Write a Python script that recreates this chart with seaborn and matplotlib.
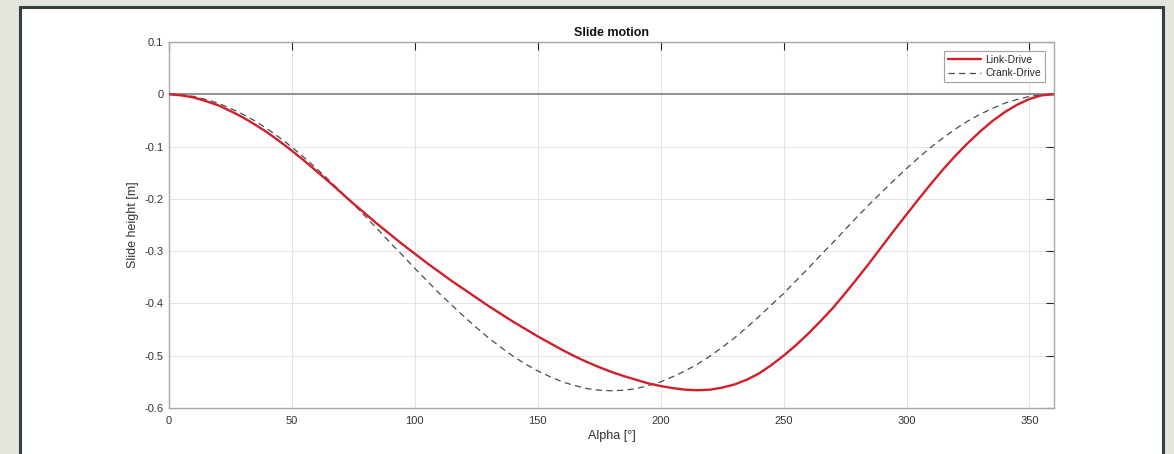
import numpy as np
import pandas as pd
import matplotlib
matplotlib.use('Agg')
import matplotlib.pyplot as plt
from matplotlib.patches import Rectangle
import seaborn as sns

# crank angle [deg], every 5 degrees
alpha = list(range(0, 361, 5))

# slide height [m]
link_drive = [0.000, -0.002, -0.006, -0.013, -0.021, -0.032, -0.044, -0.058, -0.073, -0.090,
              -0.108, -0.127, -0.147, -0.167, -0.188, -0.209, -0.229, -0.249, -0.268, -0.287,
              -0.305, -0.323, -0.340, -0.357, -0.373, -0.389, -0.405, -0.420, -0.435, -0.449,
              -0.463, -0.476, -0.489, -0.501, -0.512, -0.522, -0.531, -0.539, -0.546, -0.553,
              -0.558, -0.562, -0.565, -0.566, -0.565, -0.561, -0.555, -0.546, -0.534, -0.518,
              -0.500, -0.480, -0.458, -0.434, -0.409, -0.381, -0.352, -0.322, -0.291, -0.260,
              -0.230, -0.200, -0.171, -0.143, -0.117, -0.093, -0.071, -0.051, -0.034, -0.020,
              -0.009, -0.002, 0.000]
crank_drive = [0.000, -0.001, -0.004, -0.010, -0.017, -0.027, -0.038, -0.051, -0.066, -0.083,
               -0.101, -0.121, -0.142, -0.164, -0.187, -0.210, -0.234, -0.259, -0.284, -0.308,
               -0.333, -0.357, -0.381, -0.403, -0.425, -0.446, -0.466, -0.484, -0.501, -0.516,
               -0.529, -0.540, -0.550, -0.557, -0.563, -0.566, -0.567, -0.566, -0.563, -0.557,
               -0.550, -0.540, -0.529, -0.516, -0.501, -0.484, -0.466, -0.446, -0.425, -0.403,
               -0.381, -0.357, -0.333, -0.308, -0.284, -0.259, -0.234, -0.210, -0.187, -0.164,
               -0.142, -0.121, -0.101, -0.083, -0.066, -0.051, -0.038, -0.027, -0.017, -0.010,
               -0.004, -0.001, 0.000]

x_ticks = [0, 50, 100, 150, 200, 250, 300, 350]
y_ticks = [0.1, 0, -0.1, -0.2, -0.3, -0.4, -0.5, -0.6]
y_tick_labels = ['0.1', '0', '-0.1', '-0.2', '-0.3', '-0.4', '-0.5', '-0.6']

df = pd.DataFrame({'alpha': alpha, 'Link-Drive': link_drive, 'Crank-Drive': crank_drive})

sns.set_theme(style='whitegrid')
plt.rcParams['font.family'] = ['Liberation Sans', 'DejaVu Sans']

fig = plt.figure(figsize=(11.74, 4.54), dpi=100, facecolor='#e3e4db')

# white panel with dark frame
fig.patches.append(Rectangle((20 / 1174, -0.05), (1163 - 20) / 1174, 1 - 7 / 454 + 0.05,
                             transform=fig.transFigure, facecolor='white',
                             edgecolor='#34433e', linewidth=2.2, zorder=-1))

ax = fig.add_axes([169 / 1174, 1 - 408 / 454, (1054 - 169) / 1174, (408 - 42) / 454])
ax.set_facecolor('white')

ax.axhline(0, color='#8a8a8a', lw=1.3, zorder=1)
sns.lineplot(data=df, x='alpha', y='Link-Drive', ax=ax, color='#d0202a', lw=1.7,
             label='Link-Drive', zorder=3)
sns.lineplot(data=df, x='alpha', y='Crank-Drive', ax=ax, color='#4a4a4a', lw=0.9,
             linestyle=(0, (5, 3.5)), label='Crank-Drive', zorder=2)

ax.set_xlim(0, 360)
ax.set_ylim(-0.6, 0.1)
ax.set_xticks(x_ticks)
ax.set_yticks(y_ticks)
ax.set_yticklabels(y_tick_labels)

ax.grid(True, color='#e3e3e3', lw=0.7)
for s in ax.spines.values():
    s.set_color('#a6a6a6')
    s.set_linewidth(1.0)
ax.tick_params(direction='in', length=5.5, width=0.8, color='#262626',
               top=True, right=True, labelsize=8, labelcolor='#333333')
ax.tick_params(axis='x', pad=6)
ax.tick_params(axis='y', pad=4)

ax.set_title('Slide motion', fontsize=9, fontweight='bold', pad=4, color='#111111')
ax.set_xlabel('Alpha [°]', fontsize=9, color='#333333', labelpad=3)
ax.set_ylabel('Slide height [m]', fontsize=9, color='#333333', labelpad=4)

leg = ax.legend(loc='upper right', fontsize=7.5, frameon=True, fancybox=False,
                handlelength=3.2, labelspacing=0.3, borderaxespad=0.9,
                borderpad=0.35, handletextpad=0.4)
leg.get_frame().set_edgecolor('#8a8a8a')
leg.get_frame().set_linewidth(0.8)

fig.savefig('out.png', dpi=100, facecolor=fig.get_facecolor())
